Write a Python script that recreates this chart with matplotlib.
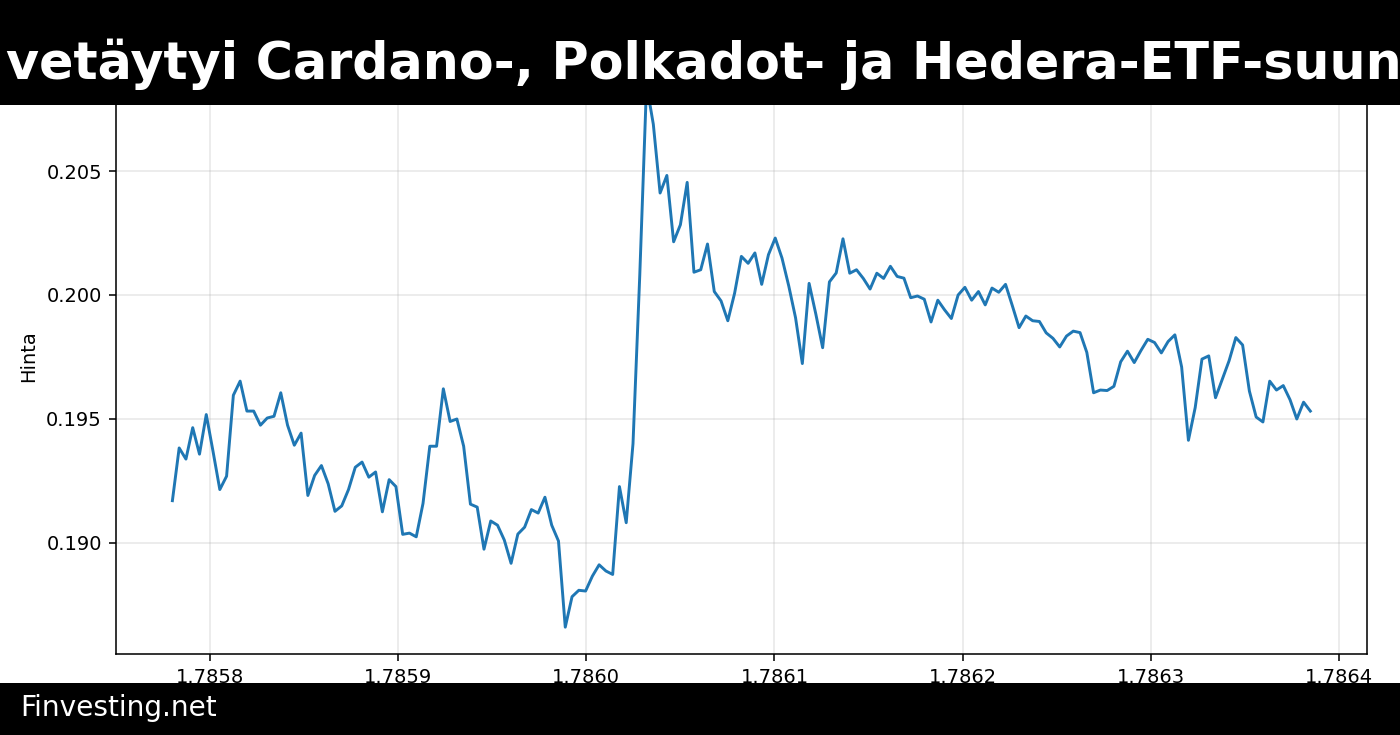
import numpy as np
import matplotlib
matplotlib.use("Agg")
import matplotlib.pyplot as plt
from matplotlib.patches import Rectangle

TITLE = "vetäytyi Cardano-, Polkadot- ja Hedera-ETF-suunnitelmista"
SOURCE = "Finvesting.net"
YLABEL = "Hinta"

# hourly samples, unix seconds
START = 1785780000
STEP = 3600

prices = [
    0.19169, 0.19382, 0.19337, 0.19464, 0.19357, 0.19517, 0.19368, 0.19214, 0.19268, 0.19595,
    0.19652, 0.19531, 0.19531, 0.19474, 0.19503, 0.19510, 0.19605, 0.19474, 0.19393, 0.19442,
    0.19190, 0.19271, 0.19311, 0.19237, 0.19126, 0.19148, 0.19214, 0.19304, 0.19325, 0.19264,
    0.19285, 0.19124, 0.19254, 0.19226, 0.19033, 0.19038, 0.19023, 0.19158, 0.19389, 0.19389,
    0.19621, 0.19489, 0.19499, 0.19389, 0.19155, 0.19143, 0.18973, 0.19087, 0.19070, 0.19010,
    0.18916, 0.19034, 0.19062, 0.19133, 0.19119, 0.19183, 0.19070, 0.19006, 0.18658, 0.18781,
    0.18807, 0.18804, 0.18864, 0.18910, 0.18885, 0.18871, 0.19226, 0.19080, 0.19399, 0.20080,
    0.20850, 0.20690, 0.20412, 0.20483, 0.20215, 0.20284, 0.20455, 0.20092, 0.20102, 0.20206,
    0.20014, 0.19976, 0.19896, 0.20007, 0.20156, 0.20128, 0.20170, 0.20043, 0.20163, 0.20230,
    0.20149, 0.20036, 0.19908, 0.19723, 0.20047, 0.19922, 0.19787, 0.20053, 0.20089, 0.20227,
    0.20088, 0.20102, 0.20067, 0.20024, 0.20088, 0.20067, 0.20116, 0.20075, 0.20068, 0.19989,
    0.19996, 0.19983, 0.19891, 0.19979, 0.19940, 0.19905, 0.20000, 0.20031, 0.19979, 0.20014,
    0.19960, 0.20028, 0.20011, 0.20043, 0.19957, 0.19868, 0.19915, 0.19896, 0.19893, 0.19847,
    0.19825, 0.19790, 0.19834, 0.19854, 0.19848, 0.19768, 0.19605, 0.19616, 0.19614, 0.19631,
    0.19730, 0.19773, 0.19727, 0.19776, 0.19821, 0.19808, 0.19766, 0.19812, 0.19839, 0.19709,
    0.19413, 0.19545, 0.19741, 0.19754, 0.19585, 0.19659, 0.19734, 0.19828, 0.19798, 0.19612,
    0.19507, 0.19487, 0.19652, 0.19616, 0.19634, 0.19577, 0.19499, 0.19567, 0.19531,
]

times = START + STEP * np.arange(len(prices))

fig = plt.figure(figsize=(10, 5.25), dpi=140)
ax = fig.add_axes([0.0825, 0.1098, 0.8941, 0.812])

ax.plot(times, prices, color="#1f77b4", lw=1.5)
ax.set_ylabel(YLABEL)
ax.grid(True, alpha=0.3)

# black header and footer bars on top of the axes
fig.add_artist(Rectangle((0, 1 - 105 / 735), 1, 105 / 735, transform=fig.transFigure,
                         facecolor="black", edgecolor="none", zorder=10))
fig.add_artist(Rectangle((0, 0), 1, 52.5 / 735, transform=fig.transFigure,
                         facecolor="black", edgecolor="none", zorder=10))

# the headline runs past the right edge, as in the source image
fig.text(0.0045, (735 - 79.3) / 735, TITLE, ha="left", va="baseline",
         fontsize=26.1, fontweight="bold", color="white", zorder=11)
fig.text(0.0145, (735 - 716) / 735, SOURCE, ha="left", va="baseline",
         fontsize=14.4, color="white", zorder=11)

fig.savefig("out.png", dpi=140)
